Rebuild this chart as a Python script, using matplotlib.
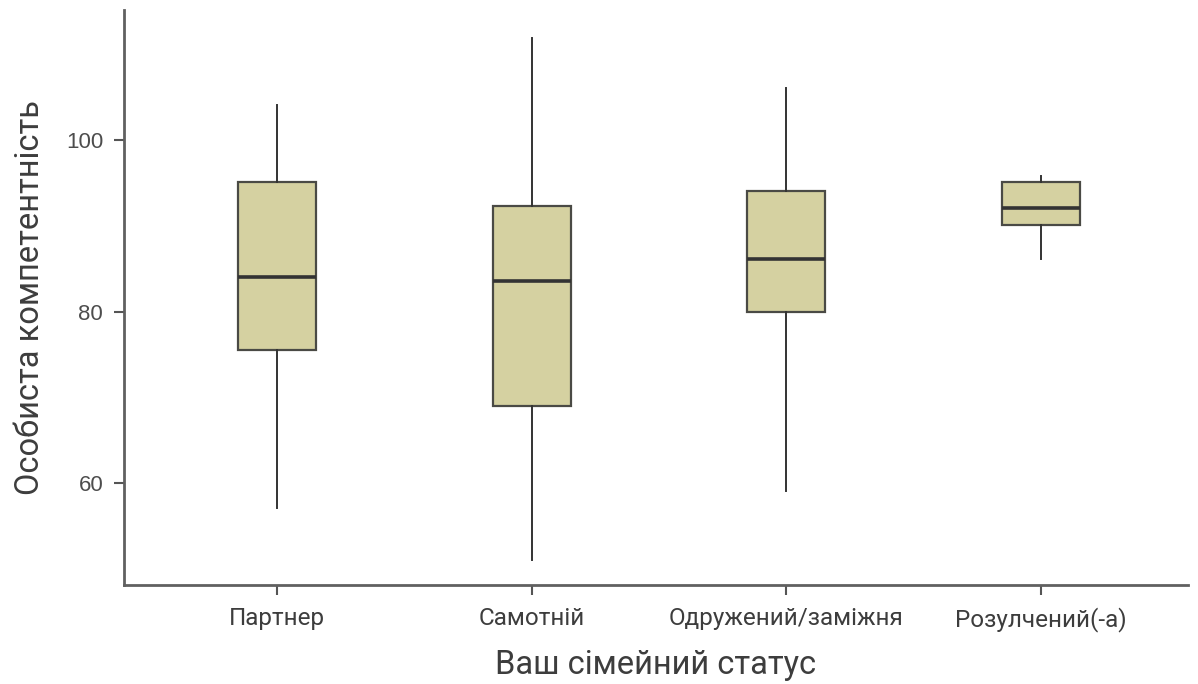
import matplotlib
matplotlib.use("Agg")
import matplotlib.pyplot as plt

categories = ["Партнер", "Самотній", "Одружений/заміжня", "Розулчений(-а)"]
whislo = [57.1, 51.0, 59.1, 86.1]
q1 = [75.5, 69.0, 80.0, 90.1]
med = [84.1, 83.6, 86.1, 92.1]
q3 = [95.1, 92.3, 94.05, 95.1]
whishi = [104.1, 112.0, 106.1, 95.9]
yticks = [60, 80, 100]

fig = plt.figure(figsize=(11.98, 6.84), dpi=100)
ax = fig.add_axes([0.1035, 0.145, 0.8882, 0.840])

stats = []
for i, c in enumerate(categories):
    stats.append(dict(label=c, whislo=whislo[i], q1=q1[i], med=med[i], q3=q3[i], whishi=whishi[i], fliers=[]))

pos = list(range(len(categories)))
ax.bxp(stats, positions=pos, widths=0.306, patch_artist=True, showcaps=False,
       boxprops=dict(facecolor="#d5d1a1", edgecolor="#4a4a45", linewidth=1.6),
       medianprops=dict(color="#333333", linewidth=2.6),
       whiskerprops=dict(color="#333333", linewidth=1.4))

ax.set_xlim(-0.6, 3.577)
ax.set_ylim(48.1, 115.2)
ax.set_yticks(yticks)
ax.set_yticklabels([str(v) for v in yticks], fontsize=16, color="#4d4d4d", family="Liberation Sans")
ax.set_xticks(pos)
ax.set_xticklabels(categories, fontsize=17.5, color="#3d3d3d", family="Roboto")
for s in ["top", "right"]:
    ax.spines[s].set_visible(False)
for s in ["left", "bottom"]:
    ax.spines[s].set_color("#606060")
    ax.spines[s].set_linewidth(2)
ax.tick_params(axis="both", length=7, width=1.5, color="#555555")
ax.tick_params(axis="x", pad=9)
ax.tick_params(axis="y", pad=8)
ax.set_xlabel("Ваш сімейний статус", fontsize=23.5, color="#3d3d3d", family="Roboto", labelpad=12)
ax.set_ylabel("Особиста компетентність", fontsize=23.5, color="#3d3d3d", family="Roboto", labelpad=14)

fig.savefig("out.png", dpi=100)
